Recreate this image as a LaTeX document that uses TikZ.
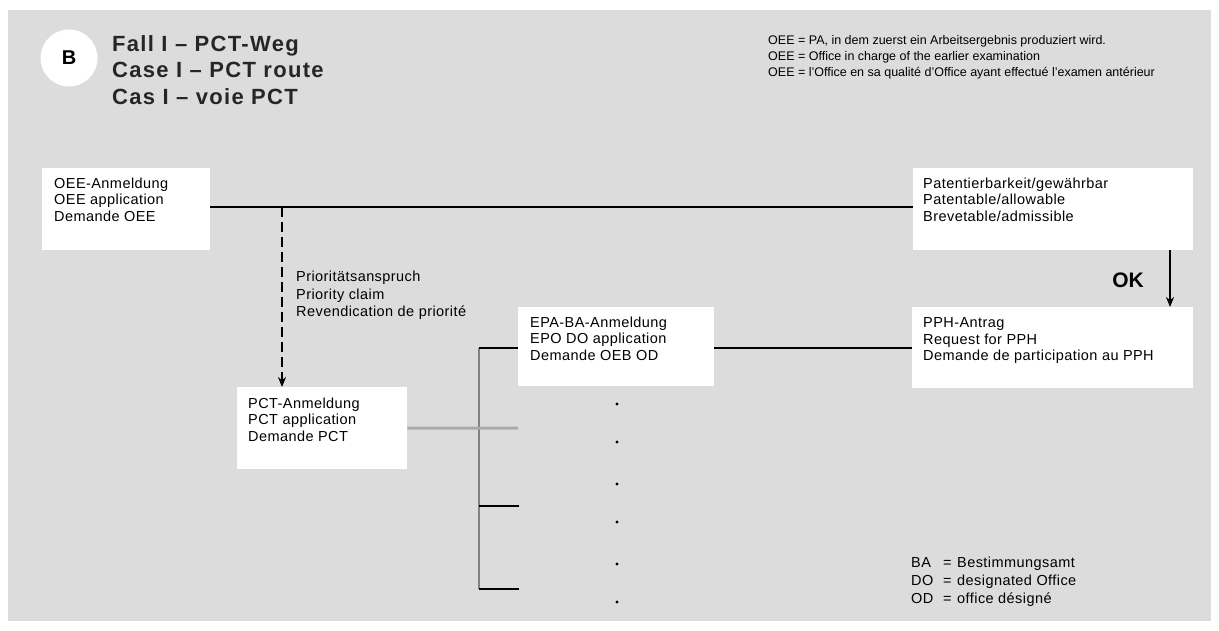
\documentclass[tikz,border=0pt]{standalone}
\usepackage{fontspec}
\setmainfont{Liberation Sans}
\usetikzlibrary{arrows.meta}
\definecolor{bg}{RGB}{220,220,220}
\definecolor{midgray}{RGB}{130,130,130}
\definecolor{lightline}{RGB}{170,170,170}
\tikzset{
  box/.style={fill=white, draw=none, anchor=north west, inner sep=0pt},
  txt/.style={anchor=north west, inner sep=0pt, align=left, font=\fontsize{14.5}{16.6}\selectfont\addfontfeature{LetterSpace=3}},
  conn/.style={line width=1.4pt, black},
  arr/.style={line width=1.4pt, -{Stealth[length=10pt,width=8pt]}},
  dot/.style={circle, fill=black, inner sep=0pt, minimum size=3.2pt},
}
\begin{document}
\begin{tikzpicture}[x=1pt,y=-1pt]
\useasboundingbox (0,0) rectangle (1219,631);
\fill[white] (0,0) rectangle (1219,631);
\fill[bg] (8,10) rectangle (1211,621);

% title
\node[circle, fill=white, minimum size=57pt, inner sep=0pt, font=\fontsize{20}{20}\selectfont\bfseries] (bcirc) at (69,58) {B};
\node[anchor=north west, inner sep=0pt, align=left, font=\fontsize{22}{26.5}\selectfont\bfseries\addfontfeature{LetterSpace=6}, text=black!85] (title) at (112,35)
  {Fall I -- PCT-Weg\\Case I -- PCT route\\Cas I -- voie PCT};

% top legend
\node[anchor=north west, inner sep=0pt, align=left, font=\fontsize{12.5}{16}\selectfont] (leg1) at (768,35.5)
  {OEE = PA, in dem zuerst ein Arbeitsergebnis produziert wird.\\
   OEE = Office in charge of the earlier examination\\
   OEE = l'Office en sa qualité d'Office ayant effectué l'examen antérieur};

% boxes
\node[box, minimum width=168pt, minimum height=82pt] (oee) at (42,168) {};
\node[txt] (oeet) at (54,177.5) {OEE-Anmeldung\\OEE application\\Demande OEE};

\node[box, minimum width=280pt, minimum height=82pt] (pat) at (913,168) {};
\node[txt] (patt) at (923,177.5) {Patentierbarkeit/gewährbar\\Patentable/allowable\\Brevetable/admissible};

\node[box, minimum width=281pt, minimum height=81pt] (pph) at (912,307) {};
\node[txt] (ppht) at (923,317.5) {PPH-Antrag\\Request for PPH\\Demande de participation au PPH};

\node[box, minimum width=196pt, minimum height=79pt] (epa) at (518,307) {};
\node[txt] (epat) at (530,316.5) {EPA-BA-Anmeldung\\EPO DO application\\Demande OEB OD};

\node[box, minimum width=170pt, minimum height=82pt] (pct) at (237,387) {};
\node[txt] (pctt) at (248,397.5) {PCT-Anmeldung\\PCT application\\Demande PCT};

\node[txt, font=\fontsize{14.5}{17.5}\selectfont\addfontfeature{LetterSpace=3}] (prio) at (296,271) {Prioritätsanspruch\\Priority claim\\Revendication de priorité};

\node[anchor=center, inner sep=0pt, font=\fontsize{21}{21}\selectfont\bfseries] (ok) at (1128,280) {OK};

% bottom legend
\node[txt, font=\fontsize{14.5}{18}\selectfont\addfontfeature{LetterSpace=3}] (leg2) at (911,557)
  {\makebox[32pt][l]{BA}\makebox[14pt][l]{=}Bestimmungsamt\\
   \makebox[32pt][l]{DO}\makebox[14pt][l]{=}designated Office\\
   \makebox[32pt][l]{OD}\makebox[14pt][l]{=}office désigné};

% connectors
\coordinate (j1) at (282,207);
\draw[conn] (oee.east |- j1) -- (pat.west |- j1);
\draw[arr, dash pattern=on 10pt off 5pt] (j1) -- (j1 |- pct.north);
\coordinate (j2) at (1170,250);
\draw[arr] (j2) -- (j2 |- pph.north);
\draw[conn] (epa.east |- 0,348) -- (pph.west |- 0,348);

\coordinate (b0) at (479,348);
\coordinate (b1) at (479,589);
\coordinate (t2) at (519,506);
\coordinate (t3) at (519,589);
\coordinate (g1) at (518,428);
\draw[line width=1.5pt, midgray] (b0) -- (b1);
\draw[line width=3pt, lightline] (pct.east) -- (g1);
\draw[conn] (b0) -- (epa.west |- b0);
\draw[conn] (b0 |- t2) -- (t2);
\draw[conn] (b1) -- (t3);

\foreach \i/\yy in {1/404,2/442,3/484,4/522,5/564,6/602}
  \node[dot] (d\i) at (617,\yy) {};
\end{tikzpicture}
\end{document}
